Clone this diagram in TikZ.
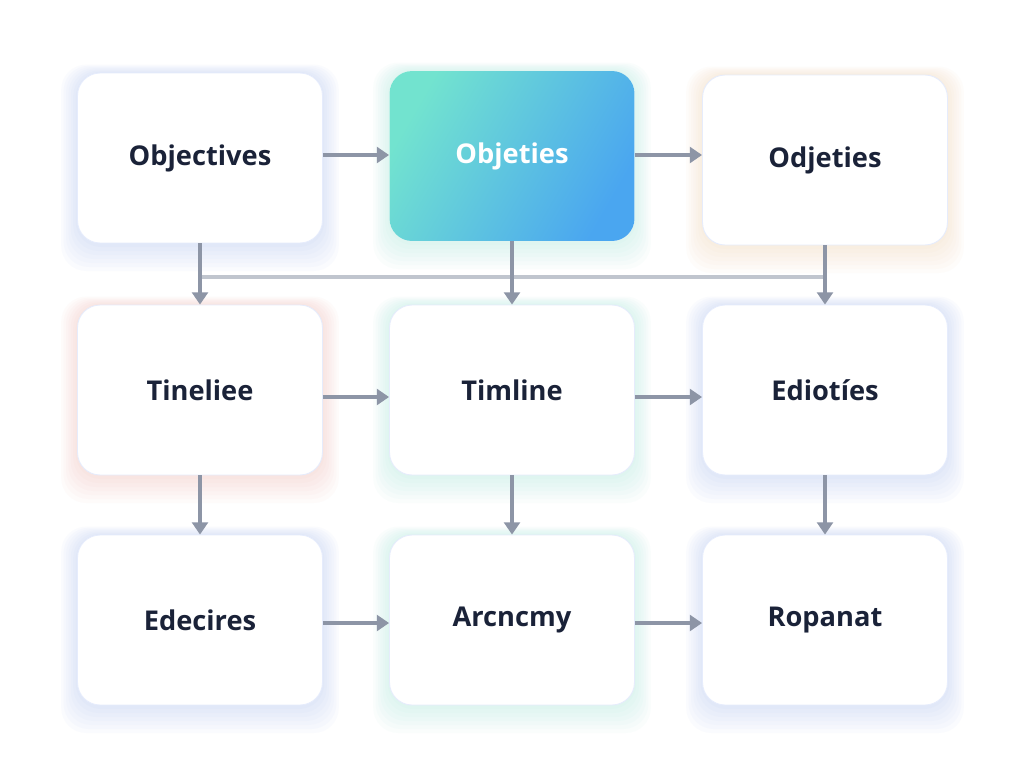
\documentclass[tikz,border=0pt]{standalone}
\usepackage{fontspec}
\setmainfont{Open Sans}
\usetikzlibrary{arrows.meta}
\definecolor{arr}{HTML}{8D95A6}
\definecolor{txt}{HTML}{1A2238}
\definecolor{tealA}{HTML}{72E3CF}
\definecolor{blueA}{HTML}{4AA6F0}
\definecolor{gb}{HTML}{9DB4F5}
\definecolor{go}{HTML}{F5C89D}
\definecolor{gr}{HTML}{F5A9A0}
\definecolor{gt}{HTML}{8FE3D0}
\begin{document}
\begin{tikzpicture}[x=0.02cm,y=-0.02cm,
 card/.style={draw=gb!25,line width=0.5pt,fill=white,rounded corners=0.45cm,minimum width=4.9cm,minimum height=3.4cm,
   font=\bfseries\fontsize{15.5}{18}\selectfont,text=txt},
 hl/.style={card,draw=none,shading=axis,left color=tealA,right color=blueA,shading angle=60,text=white},
 arw/.style={draw=arr,line width=2.4pt,-{Triangle[length=7pt,width=9pt]}},
 ln/.style={draw=arr!55,line width=2pt}]
\useasboundingbox (0,0) rectangle (1024,768);
\fill[white] (0,0) rectangle (1024,768);
\foreach \x/\y/\c in {200/158/gb,512/156/gt,825/160/go,200/390/gr,512/390/gt,825/390/gb,200/620/gb,512/620/gt,825/620/gb}{
  \foreach \s in {4,8,...,28}{
    \fill[\c,opacity=0.045,rounded corners=0.5cm] (\x-122-\s*0.6,\y-85-\s*0.3) rectangle (\x+122+\s*0.6,\y+85+\s);
  }
}
\node[card] (a1) at (200,158) {Objectives};
\node[hl] (a2) at (512,156) {Objeties};
\node[card] (a3) at (825,160) {Odjeties};
\node[card] (b1) at (200,390) {Tineliee};
\node[card] (b2) at (512,390) {Timline};
\node[card] (b3) at (825,390) {Ediotíes};
\node[card] (c1) at (200,620) {Edecires};
\node[card] (c2) at (512,620) {Arcncmy};
\node[card] (c3) at (825,620) {Ropanat};
\draw[arw] (a1.east |- 0,155) -- (a2.west |- 0,155);
\draw[arw] (a2.east |- 0,155) -- (a3.west |- 0,155);
\draw[arw] (b1.east |- 0,397) -- (b2.west |- 0,397);
\draw[arw] (b2.east |- 0,397) -- (b3.west |- 0,397);
\draw[arw] (c1.east |- 0,623) -- (c2.west |- 0,623);
\draw[arw] (c2.east |- 0,623) -- (c3.west |- 0,623);
\coordinate (j1) at (200,277); \coordinate (j3) at (825,277);
\draw[ln] (j1) -- (j3);
\draw[arw] (a1.south) -- (b1.north);
\draw[arw] (a2.south) -- (b2.north);
\draw[arw] (a3.south) -- (b3.north);
\draw[arw] (b1.south) -- (c1.north);
\draw[arw] (b2.south) -- (c2.north);
\draw[arw] (b3.south) -- (c3.north);
\end{tikzpicture}
\end{document}
